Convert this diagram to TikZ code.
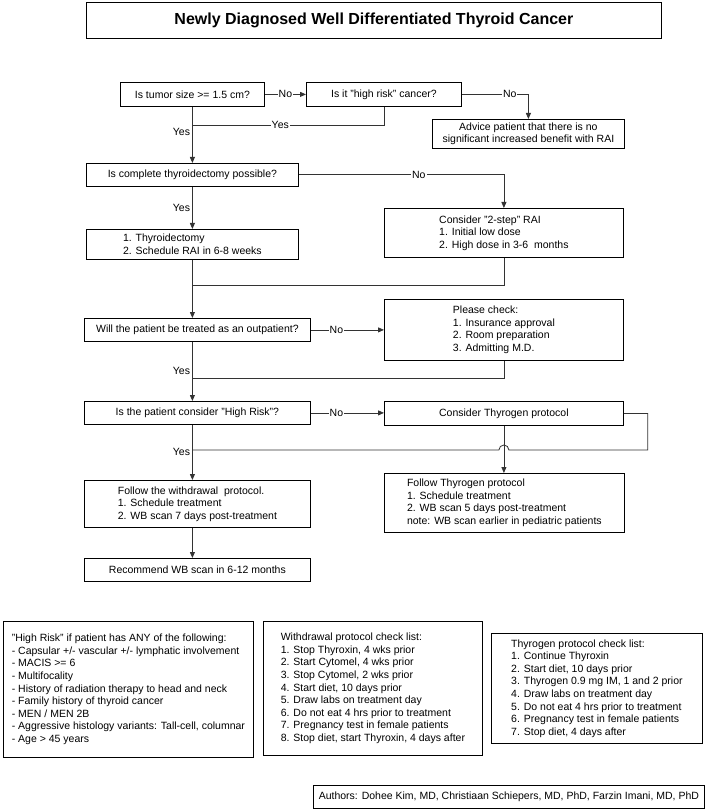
\documentclass[tikz,border=0pt]{standalone}
\usepackage{fontspec}
\setmainfont{Liberation Sans}
\usetikzlibrary{arrows.meta}
\begin{document}
\begin{tikzpicture}[x=1pt,y=-1pt,
  txt/.style={font=\fontsize{10.5}{12.6}\selectfont},
  box/.style={txt, draw=black, line width=0.8pt, inner sep=2pt, anchor=north west},
  conn/.style={draw=black!80, line width=0.8pt},
  arr/.style={conn, -{Triangle[length=6pt,width=5pt]}},
  lbl/.style={txt, fill=white, inner sep=1pt},
  yes/.style={txt, anchor=east, inner sep=0pt, xshift=-2pt}]
\useasboundingbox (0,0) rectangle (708,810);
\fill[white] (0,0) rectangle (708,810);

% title
\node[box, minimum width=575, minimum height=36, font=\fontsize{16}{19}\selectfont\bfseries] (title) at (86,2) {Newly Diagnosed Well Differentiated Thyroid Cancer};

% decision / action boxes
\node[box, minimum width=144, minimum height=24] (b1) at (120,82) {Is tumor size >= 1.5 cm?};
\node[box, minimum width=155, minimum height=24] (b2) at (306,82) {Is it "high risk" cancer?};
\node[box, minimum width=192, minimum height=29, align=center] (adv) at (432,119) {Advice patient that there is no\\significant increased benefit with RAI};
\node[box, minimum width=212, minimum height=23] (b3) at (86,163) {Is complete thyroidectomy possible?};
\node[box, minimum width=212, minimum height=30, align=left] (b4) at (86,229) {1. Thyroidectomy\\2. Schedule RAI in 6-8 weeks};
\node[box, minimum width=239, minimum height=49, align=left] (two) at (384,208) {Consider "2-step" RAI\\1. Initial low dose\\2. High dose in 3-6\ \ months};
\node[box, minimum width=226, minimum height=23] (b5) at (84,318) {Will the patient be treated as an outpatient?};
\node[box, minimum width=239, minimum height=61, align=left] (chk) at (384,299) {Please check:\\1. Insurance approval\\2. Room preparation\\3. Admitting M.D.};
\node[box, minimum width=226, minimum height=23] (b6) at (84,401) {Is the patient consider "High Risk"?};
\node[box, minimum width=239, minimum height=24] (thy) at (384,401) {Consider Thyrogen protocol};
\node[box, minimum width=240, minimum height=59, align=left] (fthy) at (384,473) {Follow Thyrogen protocol\\1. Schedule treatment\\2. WB scan 5 days post-treatment\\note: WB scan earlier in pediatric patients};
\node[box, minimum width=226, minimum height=47, align=left] (b7) at (84,480) {Follow the withdrawal\ \ protocol.\\1. Schedule treatment\\2. WB scan 7 days post-treatment};
\node[box, minimum width=226, minimum height=23] (b8) at (84,558) {Recommend WB scan in 6-12 months};

% check lists
\node[box, minimum width=250, minimum height=136, align=left] (hr) at (3,621) {"High Risk" if patient has ANY of the following:\\- Capsular +/- vascular +/- lymphatic involvement\\- MACIS >= 6\\- Multifocality\\- History of radiation therapy to head and neck\\- Family history of thyroid cancer\\- MEN / MEN 2B\\- Aggressive histology variants: Tall-cell, columnar\\- Age > 45 years};
\node[box, minimum width=219, minimum height=134, align=left] (wd) at (263,621) {Withdrawal protocol check list:\\1. Stop Thyroxin, 4 wks prior\\2. Start Cytomel, 4 wks prior\\3. Stop Cytomel, 2 wks prior\\4. Start diet, 10 days prior\\5. Draw labs on treatment day\\6. Do not eat 4 hrs prior to treatment\\7. Pregnancy test in female patients\\8. Stop diet, start Thyroxin, 4 days after};
\node[box, minimum width=211, minimum height=110, align=left] (tc) at (491,633) {Thyrogen protocol check list:\\1. Continue Thyroxin\\2. Start diet, 10 days prior\\3. Thyrogen 0.9 mg IM, 1 and 2 prior\\4. Draw labs on treatment day\\5. Do not eat 4 hrs prior to treatment\\6. Pregnancy test in female patients\\7. Stop diet, 4 days after};
\node[box, minimum width=391, minimum height=23] (auth) at (313,785) {Authors: Dohee Kim, MD, Christiaan Schiepers, MD, PhD, Farzin Imani, MD, PhD};

% junction points on the main trunk
\coordinate (j1) at (192,125);
\coordinate (j2) at (192,285);
\coordinate (j3) at (192,378);
\coordinate (j4) at (192,450);

% connectors
\draw[arr] (b1.east) -- node[lbl]{No} (b2.west);
\draw[arr] (b2.east) -- node[lbl,pos=0.72]{No} (b2.east -| adv.north) -- (adv.north);
\draw[conn] (b2.south) -- (b2.south |- j1) -- node[lbl,pos=0.54]{Yes} (j1);
\draw[arr] (b1.south) -- node[yes,pos=0.44]{Yes} (b3.north);
\draw[arr] (b3.east) -- node[lbl,pos=0.585]{No} (b3.east -| two.north) -- (two.north);
\draw[arr] (b3.south) -- node[yes,pos=0.49]{Yes} (b4.north);
\draw[conn] (two.south) |- (j2);
\draw[arr] (b4.south) -- (b5.north -| b4.south);
\draw[arr] (b5.east) -- node[lbl,pos=0.35]{No} (b5.east -| chk.west);
\draw[conn] (chk.south) |- (j3);
\draw[arr] (b5.south -| b4.south) -- node[yes,pos=0.5]{Yes} (b6.north -| b4.south);
\draw[arr] (b6.east) -- node[lbl,pos=0.35]{No} (b6.east -| thy.west);
\draw[conn] (thy.east) -- ([xshift=24pt]thy.east) |- ([xshift=5pt]thy.south |- j4) arc[start angle=0, end angle=-180, radius=5] -- (j4);
\draw[arr] (thy.south) -- (thy.south |- fthy.north);
\draw[arr] (b6.south -| b4.south) -- node[yes,pos=0.5]{Yes} (b7.north -| b4.south);
\draw[arr] (b7.south -| b4.south) -- (b8.north -| b4.south);
\end{tikzpicture}
\end{document}
